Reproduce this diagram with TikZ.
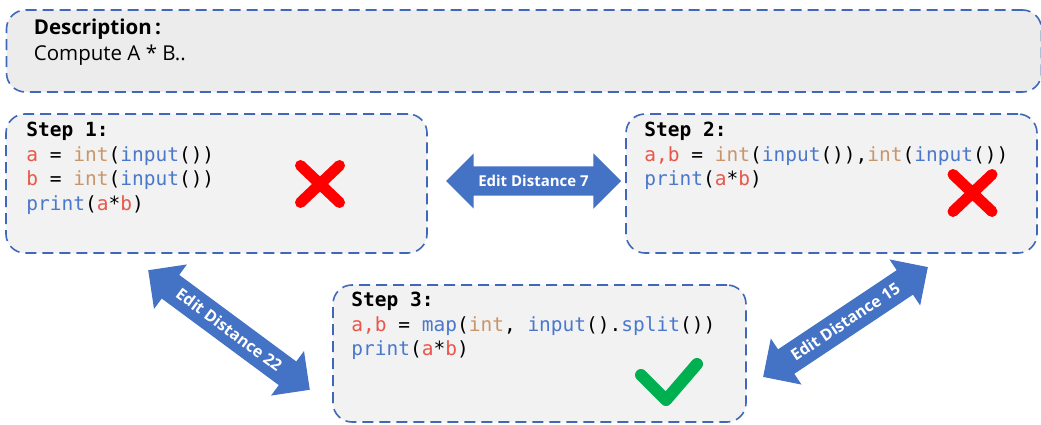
\documentclass[tikz,border=0pt]{standalone}
\usepackage{fontspec}
\setmainfont{Open Sans}
\setmonofont{DejaVu Sans Mono}
\usetikzlibrary{positioning,shapes.arrows}
\definecolor{boxline}{HTML}{4068B8}
\definecolor{arrowblue}{HTML}{4472C4}
\definecolor{descfill}{HTML}{ECECEC}
\definecolor{stepfill}{HTML}{F2F2F2}
\definecolor{codered}{HTML}{E8574A}
\definecolor{codetan}{HTML}{C9956A}
\definecolor{codeblue}{HTML}{4A78CC}
\definecolor{crossred}{HTML}{FF0000}
\definecolor{checkgreen}{HTML}{00B050}
\newcommand{\cvar}[1]{\textcolor{codered}{#1}}
\newcommand{\ctype}[1]{\textcolor{codetan}{#1}}
\newcommand{\cfunc}[1]{\textcolor{codeblue}{#1}}
\tikzset{
dashbox/.style={draw=boxline, line width=1.6pt, dash pattern=on 11pt off 6pt, rounded corners=19pt, inner sep=0pt},
desctext/.style={font=\fontsize{20.5}{25.3}\selectfont, align=left, inner sep=0pt},
codetext/.style={font=\ttfamily\fontsize{19.5}{24.5}\selectfont, align=left, inner sep=0pt},
editarrow/.style={double arrow, fill=arrowblue, text=white, font=\bfseries\fontsize{15}{15}\selectfont, text height=11pt, text depth=0pt, inner ysep=9pt, double arrow head extend=13pt, minimum height=#1},
bigtext/.style={font=\bfseries\fontsize{16}{16}\selectfont},
cross/.style={draw=crossred, line width=11pt, line cap=round},
tick/.style={draw=checkgreen, line width=12pt, line cap=round, line join=round}
}
\begin{document}
\begin{tikzpicture}[x=1pt,y=1pt]
\useasboundingbox (0,0) rectangle (1041,424);
\node[dashbox, fill=descfill, minimum width=1035pt, minimum height=82pt] (desc) at (524,373) {};
\node[dashbox, fill=stepfill, minimum width=421pt, minimum height=139pt] (s1) at (216.5,240.5) {};
\node[dashbox, fill=stepfill, minimum width=411pt, minimum height=139pt] (s2) at (831.5,240.5) {};
\node[dashbox, fill=stepfill, minimum width=413pt, minimum height=137pt] (s3) at (539.5,70.5) {};
\node[desctext, below right=10pt and 28pt of desc.north west] (desct) {\textbf{Description\,:}\\Compute A * B..};
\node[codetext, below right=9pt and 21pt of s1.north west] (s1t) {\textbf{Step 1:}\\
\cvar{a} = \ctype{int}(\cfunc{input}())\\
\cvar{b} = \ctype{int}(\cfunc{input}())\\
\cfunc{print}(\cvar{a}*\cvar{b})};
\node[codetext, below right=9pt and 19pt of s2.north west] (s2t) {\textbf{Step 2:}\\
\cvar{a,b} = \ctype{int}(\cfunc{input}()),\ctype{int}(\cfunc{input}())\\
\cfunc{print}(\cvar{a}*\cvar{b})};
\node[codetext, below right=8pt and 19pt of s3.north west] (s3t) {\textbf{Step 3:}\\
\cvar{a,b} = \cfunc{map}(\ctype{int}, \cfunc{input}().\cfunc{split}())\\
\cfunc{print}(\cvar{a}*\cvar{b})};
\node[editarrow=175pt] (e12) at (533.5,243) {Edit Distance 7};
\node[editarrow=201pt, bigtext, rotate=-36.5] (e13) at (229,94) {Edit Distance 22};
\node[editarrow=198pt, bigtext, rotate=33.7] (e23) at (845.5,102) {Edit Distance 15};
\draw[cross] (300.5,258.5) -- (339.5,221.5) (300.5,221.5) -- (339.5,258.5);
\draw[cross] (953,249.5) -- (992,212.5) (953,212.5) -- (992,249.5);
\draw[tick] (641,49) -- (666,24) -- (697,60);
\end{tikzpicture}
\end{document}
